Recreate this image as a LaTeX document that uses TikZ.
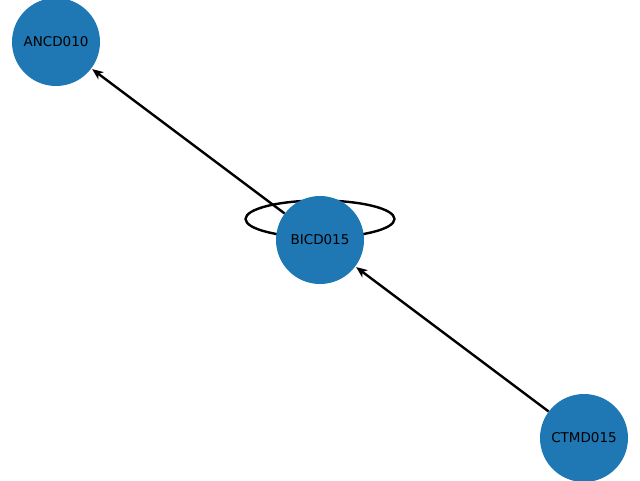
\documentclass[tikz,border=0pt]{standalone}
\usepackage{fontspec}
\setmainfont{DejaVu Sans}
\usetikzlibrary{arrows.meta,backgrounds}
\definecolor{nodeblue}{HTML}{1F77B4}
\tikzset{
  vtx/.style={circle, fill=nodeblue, minimum size=88pt, inner sep=0pt, font=\fontsize{13.5}{14}\selectfont},
  edge/.style={line width=2.4pt, -{Stealth[length=11pt,width=9pt,inset=3pt]}, shorten >=1pt},
  loopline/.style={line width=2.4pt}
}
\begin{document}
\begin{tikzpicture}[x=1pt,y=-1pt]
\useasboundingbox (0,0) rectangle (640,480);
\node[vtx] (A) at (56,42) {ANCD010};
\node[vtx] (B) at (320,240) {BICD015};
\node[vtx] (C) at (584,438) {CTMD015};
\begin{scope}[on background layer]
\draw[loopline] (320,219) ellipse [x radius=74.5pt, y radius=18.5pt];
\draw[edge] (B) -- (A);
\draw[edge] (C) -- (B);
\end{scope}
\end{tikzpicture}
\end{document}
